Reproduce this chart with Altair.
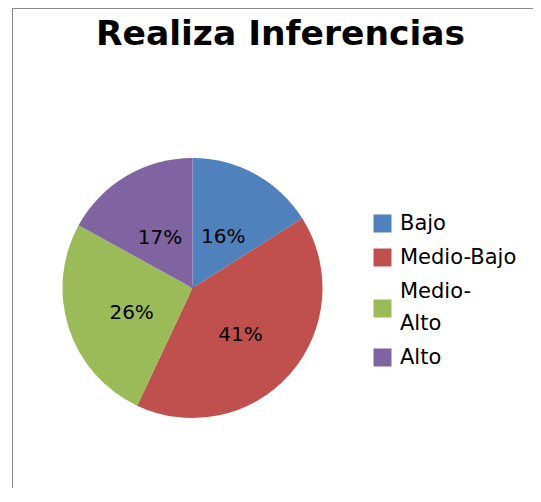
import altair as alt
import pandas as pd

categories = ["Bajo", "Medio-Bajo", "Medio-Alto", "Alto"]
values = [16, 41, 26, 17]
colors = ["#4F81BD", "#C0504D", "#9BBB59", "#8064A2"]
# legend swatch shapes (the wrapped "Medio-Alto" entry has its swatch centred between its two lines)
swatches = ["square", "square", "M-1,0.89H1V2.89H-1Z", "square"]
title_text = "Realiza Inferencias"

df = pd.DataFrame({
    "cat": categories,
    "value": values,
    "order": list(range(len(categories))),
    "label": [f"{v}%" for v in values],
})

FONT = "DejaVu Sans"
CX, CY, R = 184.5, 280, 130

legend = alt.Legend(
    title=None,
    orient="none",
    legendX=364,
    legendY=205,
    padding=0,
    symbolSize=324,
    symbolStrokeWidth=0,
    symbolOpacity=1,
    labelFont=FONT,
    labelFontSize=21,
    labelColor="black",
    labelOffset=7,
    rowPadding=12,
    labelLimit=300,
    labelExpr="datum.label == 'Medio-Alto' ? ['Medio-', 'Alto'] : datum.label",
)

color = alt.Color(
    "cat:N",
    scale=alt.Scale(domain=categories, range=colors),
    sort=categories,
    legend=legend,
)
shape = alt.Shape(
    "cat:N",
    scale=alt.Scale(domain=categories, range=swatches),
    sort=categories,
    legend=legend,
)

base = alt.Chart(df).encode(
    theta=alt.Theta("value:Q", stack=True),
    order=alt.Order("order:Q"),
)

# carries the legend swatches only (hidden under the pie)
keys = alt.Chart(df).mark_point(filled=True, opacity=1, strokeWidth=0, size=20).encode(
    color=color,
    shape=shape,
    x=alt.value(CX),
    y=alt.value(CY),
)

pie = base.mark_arc(radius=R, stroke=None).encode(
    color=color,
    x=alt.value(CX),
    y=alt.value(CY),
)

text = base.mark_text(radius=64, dy=5, font=FONT, fontSize=20, color="black").encode(
    text="label:N",
    x=alt.value(CX),
    y=alt.value(CY),
)

frame_top = alt.Chart(df).mark_rule(stroke="#888888", strokeWidth=1).encode(
    x=alt.value(4.5), x2=alt.value(800), y=alt.value(0.5)
)
frame_left = alt.Chart(df).mark_rule(stroke="#888888", strokeWidth=1).encode(
    x=alt.value(4.5), y=alt.value(0.5), y2=alt.value(800)
)

chart = alt.layer(keys, frame_top, frame_left, pie, text).properties(
    width=525,
    height=480,
    autosize=alt.AutoSizeParams(type="none"),
    padding=0,
    title=alt.TitleParams(
        title_text,
        font=FONT,
        fontSize=34.5,
        fontWeight="bold",
        color="black",
        anchor="middle",
        baseline="alphabetic",
        offset=0,
        dx=10,
        dy=71,
    ),
).configure(
    style={"guide-label": {"lineHeight": 32}},
    view=alt.ViewConfig(stroke=None),
)

chart.save("out.html", embed_options={"renderer": "svg", "actions": False})
